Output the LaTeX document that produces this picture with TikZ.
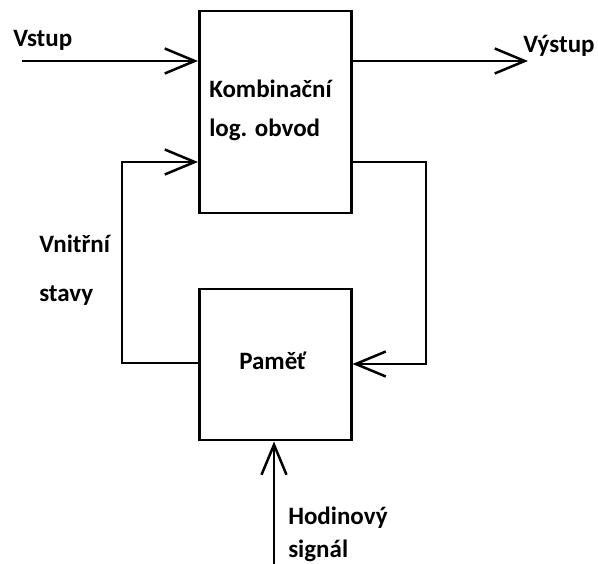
\documentclass[tikz,border=0pt]{standalone}
\usepackage{fontspec}
\setmainfont{Carlito}
\usetikzlibrary{arrows.meta}
\begin{document}
\begin{tikzpicture}[x=1pt,y=-1pt,line width=2.5pt,
  block/.style={draw,rectangle,inner sep=0pt,anchor=north west},
  lbl/.style={anchor=base west,inner sep=0pt,font=\fontsize{25}{30}\selectfont\bfseries},
  arr/.style={-{Straight Barb[length=30pt,width=25pt,line width=2.5pt]}},
  wire/.style={line join=miter}]
\useasboundingbox (0,0) rectangle (598,564);
% blocks
\node[block,minimum width=152pt,minimum height=202pt] (K) at (198,10) {};
\node[block,minimum width=152pt,minimum height=151pt] (P) at (198,288) {};
% texts
\node[lbl] (k1) at (208,98) {Kombinační};
\node[lbl] (k2) at (208,137) {log. obvod};
\node[lbl] (pm) at (238,370) {Paměť};
\node[lbl] (vin) at (12,47) {Vstup};
\node[lbl] (vout) at (522,53) {Výstup};
\node[lbl] (s1) at (38,253) {Vnitřní};
\node[lbl] (s2) at (38,302) {stavy};
\node[lbl] (h1) at (287,525) {Hodinový};
\node[lbl] (h2) at (287,557) {signál};
% free ends and corners
\coordinate (inS) at (22,61);
\coordinate (outE) at (528,61);
\coordinate (fbL1) at (122,363);
\coordinate (fbL2) at (122,162);
\coordinate (fbR1) at (426,162);
\coordinate (fbR2) at (426,364);
\coordinate (clk) at (274,564);
% connectors
\draw[arr] (inS) -- (inS -| K.west);
\draw[arr] (outE -| K.east) -- (outE);
\draw[arr,wire] (fbL1 -| P.west) -- (fbL1) -- (fbL2) -- (fbL2 -| K.west);
\draw[arr,wire] (fbR1 -| K.east) -- (fbR1) -- (fbR2) -- (fbR2 -| P.east);
\draw[arr] (clk) -- (clk |- P.south);
\end{tikzpicture}
\end{document}
